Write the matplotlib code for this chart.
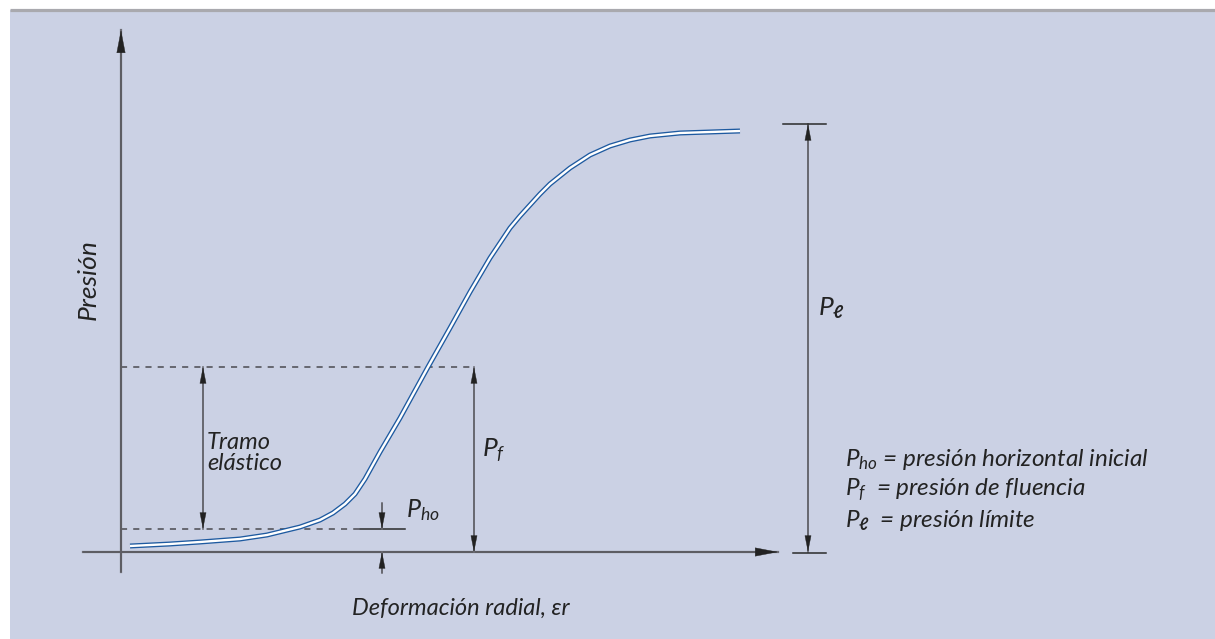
import matplotlib
matplotlib.use("Agg")
import matplotlib.pyplot as plt
from matplotlib.patches import Rectangle, FancyArrowPatch

# ---- data (arbitrary units, origin at axis crossing) ----
strain = [9, 49, 79, 119, 146, 179, 199, 212, 224, 234, 244, 259, 279, 307, 329, 349,
          369, 389, 399, 409, 419, 429, 449, 469, 489, 509, 529, 559, 589, 619]
pressure = [6, 8, 10, 13, 17, 25, 32, 39, 48, 58, 73, 100, 134, 185, 224, 260,
            294, 324, 336, 347, 358, 368, 384, 397, 406, 412, 416, 419, 420, 421]
P_ho = 23
P_f = 185
P_l = 428
x_f = 353      # strain position of the P_f dimension
x_l = 687      # strain position of the P_l dimension
x_ho = 261     # strain position of the P_ho marker
x_te = 82      # strain position of the "tramo elástico" dimension
x_axis_end = 657
y_axis_end = 522

plt.rcParams['font.family'] = ['Lato', 'DejaVu Sans']
plt.rcParams['mathtext.fontset'] = 'custom'
plt.rcParams['mathtext.rm'] = 'Lato'
plt.rcParams['mathtext.it'] = 'Lato:italic'
plt.rcParams['mathtext.bf'] = 'Lato:bold:italic'

W, H = 1215, 639
fig = plt.figure(figsize=(W / 100, H / 100), dpi=100)
fig.patch.set_facecolor('white')
ax = fig.add_axes([0, 0, 1, 1])
ox, oy = 121, 552
ax.set_xlim(-ox, W - ox)
ax.set_ylim(oy - H, oy)
ax.axis('off')

bg = '#CBD1E4'
ax.add_patch(Rectangle((10 - ox, oy - H), W, H - 10, facecolor=bg, edgecolor='none', zorder=0))
ax.plot([10 - ox, W - ox], [oy - 9.5, oy - 9.5], color='#A9A9AE', lw=2.3, solid_capstyle='butt', zorder=1)

axcol = '#6D6D75'
txt = '#232323'
hd = '#222222'

def arrow(p0, p1, style, lw=1.1, ms=12):
    a = FancyArrowPatch(p0, p1, arrowstyle=style, mutation_scale=ms, color=axcol,
                        lw=lw, shrinkA=0, shrinkB=0, zorder=3)
    a.set_facecolor(hd)
    a.set_edgecolor(hd)
    ax.add_patch(a)
    return a

# axes
for p0, p1 in [((0, -20), (0, y_axis_end)), ((-38, 0), (x_axis_end, 0))]:
    ax.plot([p0[0], p1[0]], [p0[1], p1[1]], color=axcol, lw=1.6, zorder=3)
    arrow(p0, p1, '-|>,head_length=1.3,head_width=0.25', lw=0.3, ms=12)

# dashed reference lines
ax.plot([0, x_f], [P_f, P_f], ls=(0, (4, 4)), color='#4A4A50', lw=1.1, zorder=2)
ax.plot([0, 239], [P_ho, P_ho], ls=(0, (4, 4)), color='#4A4A50', lw=1.1, zorder=2)
ax.plot([239, 284], [P_ho, P_ho], color='#2A2A2A', lw=1.1, zorder=2)

# dimension arrows
def dim(x, y0, y1, both=True):
    ax.plot([x, x], [y0, y1], color=axcol, lw=1.2, zorder=3)
    st = ('<|-|>' if both else '-|>') + ',head_length=1.1,head_width=0.22'
    arrow((x, y0), (x, y1), st, lw=0.3, ms=10)

dim(x_te, P_ho, P_f)
dim(x_f, 0, P_f)
dim(x_l, 0, P_l)
ax.plot([662, 705], [P_l, P_l], color='#2A2A2A', lw=1.1, zorder=3)
ax.plot([672, 705], [-1, -1], color='#2A2A2A', lw=1.1, zorder=3)
dim(x_ho, 49, P_ho, both=False)
dim(x_ho, -21, 0, both=False)

# curve (double line)
ax.plot(strain, pressure, color='#1E5AA0', lw=3.6, solid_capstyle='butt', solid_joinstyle='round', zorder=4)
ax.plot(strain, pressure, color='white', lw=1.7, solid_capstyle='butt', solid_joinstyle='round', zorder=5)

fs = 17.5
ax.text(-33, 272, 'Presión', rotation=90, ha='center', va='center', fontsize=19, style='italic', color=txt)
ax.text(340, -56, 'Deformación radial, εr', ha='center', va='center', fontsize=17, style='italic', color=txt)
ax.text(86, 99, 'Tramo\nelástico', ha='left', va='center', fontsize=17, style='italic', color=txt, linespacing=1.0)
ax.text(361, 102, r'$P_{f}$', ha='left', va='center', fontsize=19, color=txt)
ax.text(285, 42, r'$P_{ho}$', ha='left', va='center', fontsize=18, color=txt)
ax.text(697, 244, r'$P_{\mathbf{ℓ}}$', ha='left', va='center', fontsize=19, color=txt)

lx = 724
ax.text(lx, 93, r'$P_{ho}$ = presión horizontal inicial', ha='left', va='center', fontsize=fs, style='italic', color=txt)
ax.text(lx, 62, r'$P_{f}$  = presión de fluencia', ha='left', va='center', fontsize=fs, style='italic', color=txt)
ax.text(lx, 31, r'$P_{\mathbf{ℓ}}$  = presión límite', ha='left', va='center', fontsize=fs, style='italic', color=txt)

fig.savefig('out.png', dpi=100, facecolor='white')
